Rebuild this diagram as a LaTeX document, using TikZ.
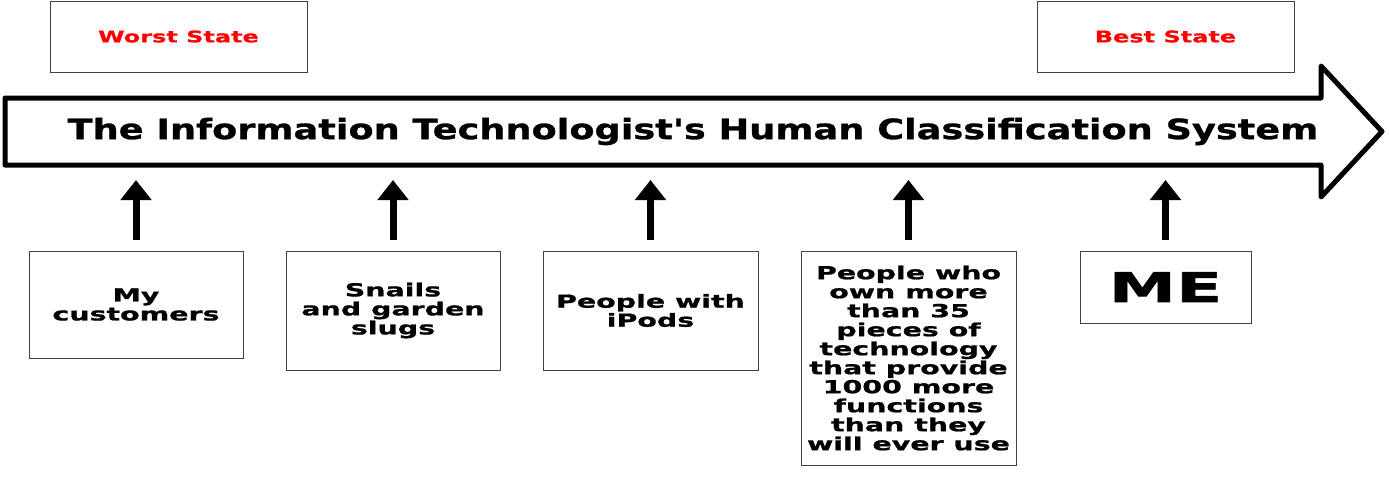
\documentclass[tikz,border=0pt]{standalone}
\usepackage{fontspec}
\usetikzlibrary{arrows.meta}
\newfontfamily\wfont{DejaVu Sans Bold}[FakeStretch=1.58,FakeBold=1]
\newfontfamily\sfont{DejaVu Sans Bold}[FakeStretch=1.5,FakeBold=0.6]
\newfontfamily\mfont{DejaVu Sans Bold}[FakeStretch=1.65,FakeBold=1.5]
\newfontfamily\tfont{DejaVu Sans Bold}[FakeStretch=1.31,FakeBold=1]
\tikzset{
  statebox/.style={draw=black!75, line width=1pt, minimum width=257pt, minimum height=71pt, inner sep=0pt,
    font=\sfont\fontsize{16}{18}\selectfont, text=red},
  catbox/.style={draw=black!75, line width=1pt, inner sep=0pt, align=center,
    font=\wfont\fontsize{18}{19}\selectfont},
  uparrow/.style={line width=7pt, -{Triangle[width=30pt,length=20pt]}},
  bigarrow/.style={line width=5pt, line join=round, draw=black, fill=white}
}
\begin{document}
\begin{tikzpicture}[x=1pt,y=-1pt]
\useasboundingbox (0,0) rectangle (1389,477);
\node[statebox] (worst) at (178.5,36.5) {Worst State};
\node[statebox] (best) at (1165.5,36.5) {Best State};
\draw[bigarrow] (5,98) -- (1321,98) -- (1321,66) -- (1382,131.5) -- (1321,197) -- (1321,165) -- (5,165) -- cycle;
\node[font=\tfont\fontsize{28}{30}\selectfont] (title) at (693,131.5) {The Information Technologist's Human Classification System};
\coordinate (shaft) at (0,165);
\node[catbox, minimum width=214pt, minimum height=107pt] (c1) at (136,304.5) {My\\customers};
\node[catbox, minimum width=214pt, minimum height=119pt] (c2) at (393,310.5) {Snails\\and garden\\slugs};
\node[catbox, minimum width=215pt, minimum height=119pt] (c3) at (650.5,310.5) {People with\\iPods};
\node[catbox, minimum width=215pt, minimum height=214pt] (c4) at (908.5,358) {People who\\own more\\than 35\\pieces of\\technology\\that provide\\1000 more\\functions\\than they\\will ever use};
\node[catbox, minimum width=171pt, minimum height=72pt, font=\mfont\fontsize{41}{44}\selectfont] (c5) at (1165.5,287) {ME};
\foreach \n in {c1,c2,c3,c4,c5}{
  \draw[uparrow] ([yshift=11pt]\n.north) -- ([yshift=-15pt]\n.north |- shaft);
}
\end{tikzpicture}
\end{document}
